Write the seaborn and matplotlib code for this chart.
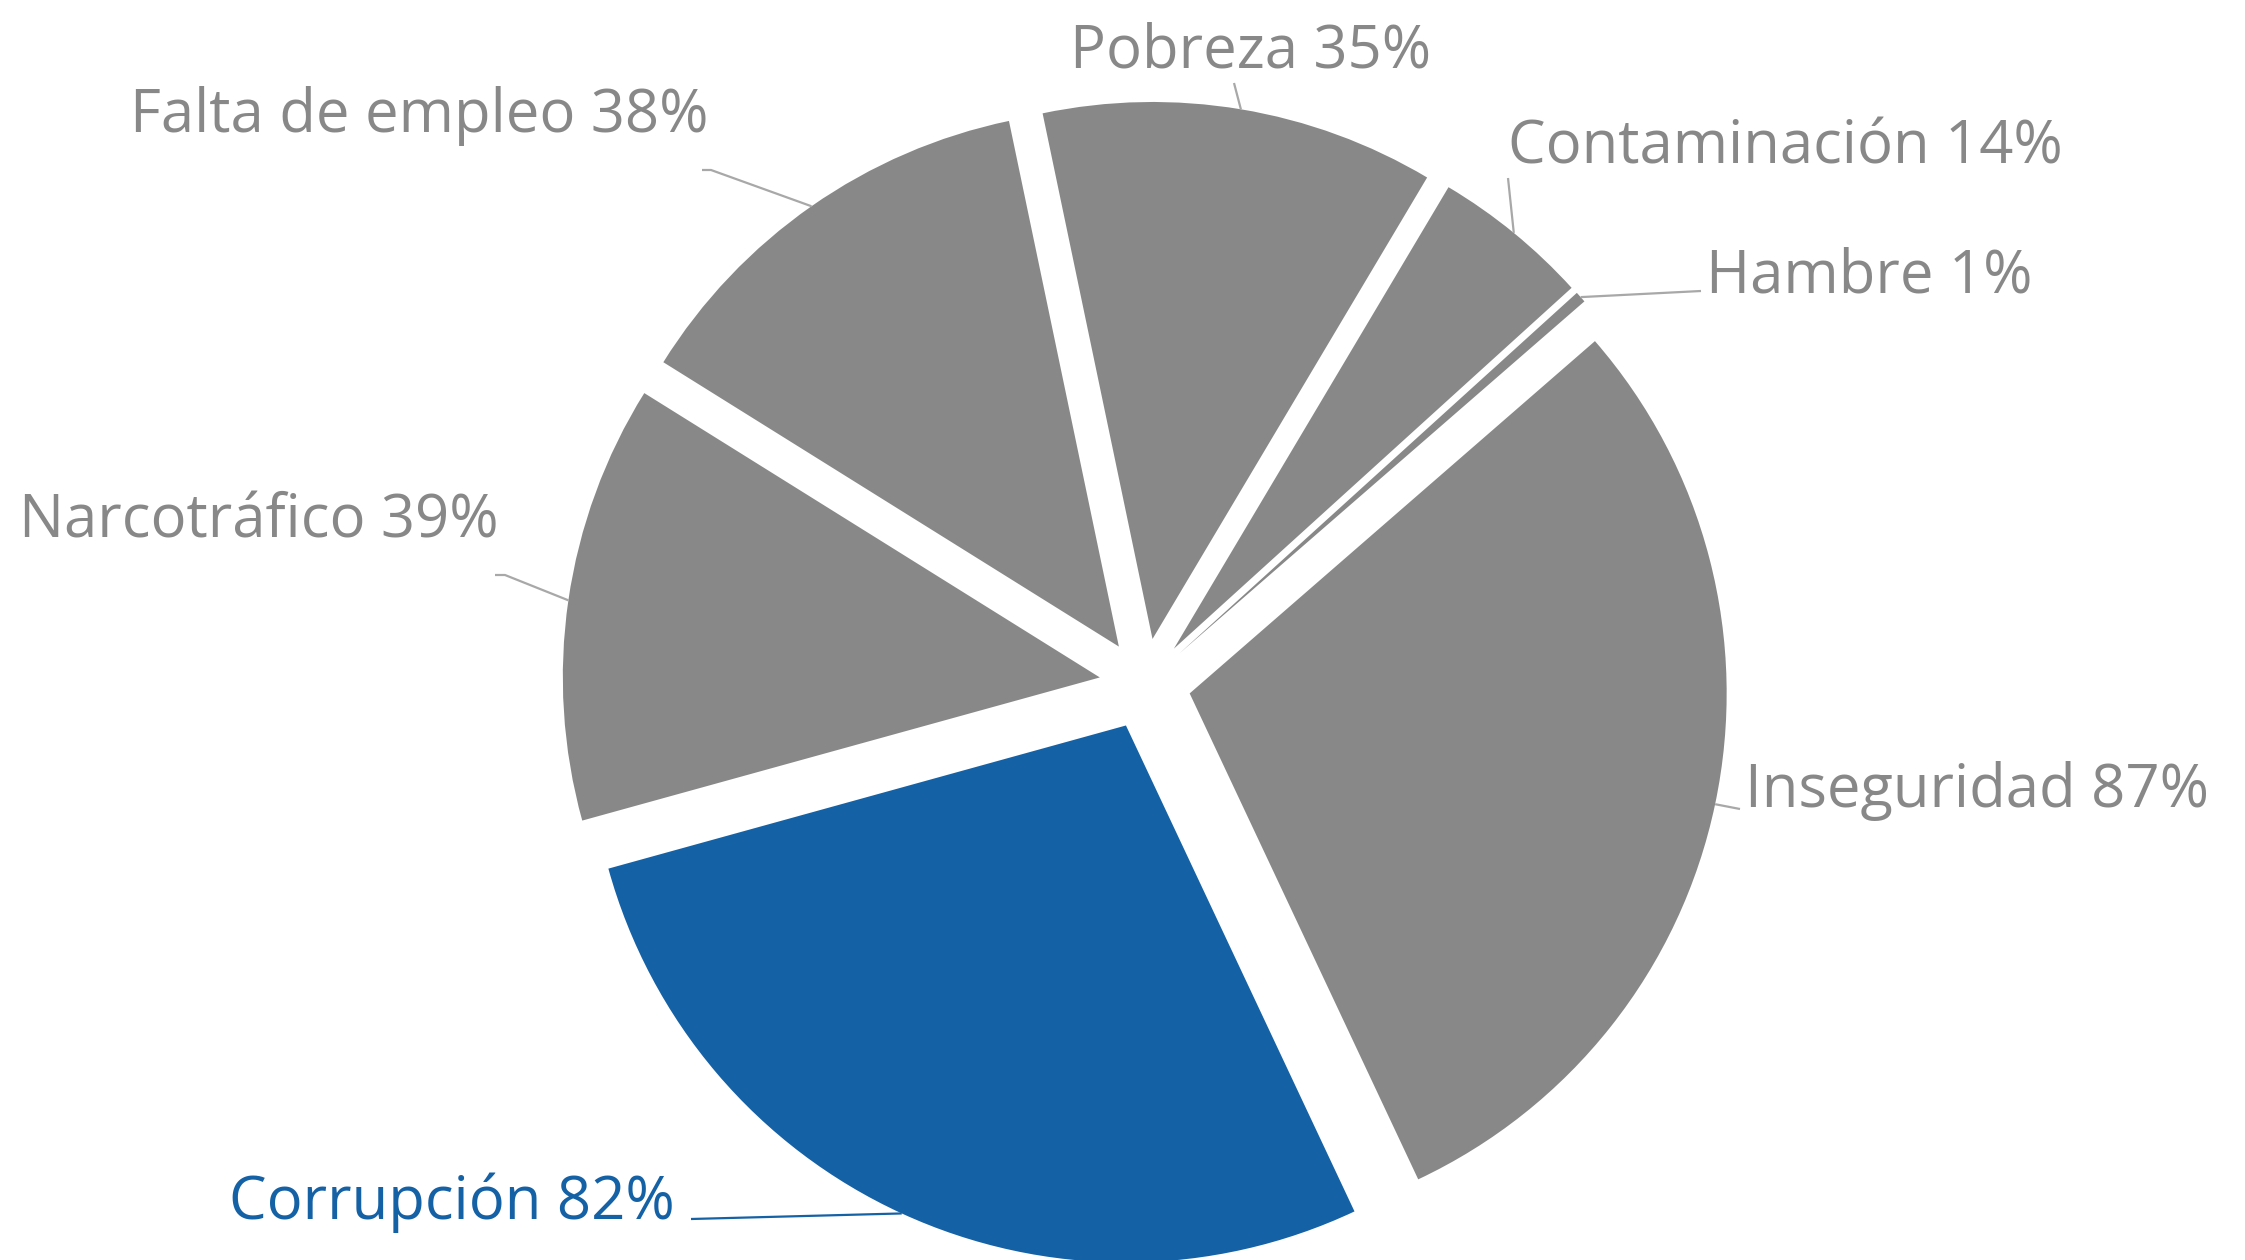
import numpy as np
import matplotlib
matplotlib.use("Agg")
import matplotlib.pyplot as plt
import seaborn as sns

# datos
categorias = ["Inseguridad", "Corrupción", "Narcotráfico", "Falta de empleo",
              "Pobreza", "Contaminación", "Hambre"]
porcentajes = [87, 82, 39, 38, 35, 14, 1]

sns.set_style("white")
plt.rcParams['font.family'] = ['Open Sans', 'DejaVu Sans']

GRIS = "#888888"
AZUL = "#1561A5"
LINEA = "#A8A8A8"
colores = [AZUL if c == "Corrupción" else GRIS for c in categorias]

W, H = 2245, 1260
cx, cy, R = 1145, 684, 537  # centro y radio del pastel en pixeles


def px(x, y):
    return (x - cx) / R, (cy - y) / R


fig = plt.figure(figsize=(W / 100, H / 100), dpi=100)
ax = fig.add_axes([0, 0, 1, 1])

wedges, _ = ax.pie(porcentajes, colors=colores, startangle=41, counterclock=False,
                   explode=[0.085] * len(porcentajes), radius=1,
                   wedgeprops=dict(linewidth=0))

ax.set_xlim(-cx / R, (W - cx) / R)
ax.set_ylim(-(H - cy) / R, cy / R)
ax.set_aspect('equal')
ax.axis('off')

# posiciones de etiquetas (pixeles): texto, alineacion, codo de la linea guia
etiquetas = {
    "Inseguridad":     dict(txt=(1745, 807), ha="left",   codo=[(1740, 809)]),
    "Corrupción":      dict(txt=(675, 1219), ha="right",  codo=[(691, 1219)]),
    "Narcotráfico":    dict(txt=(19, 537),   ha="left",   codo=[(505, 575), (495, 575)]),
    "Falta de empleo": dict(txt=(130, 132),  ha="left",   codo=[(711, 170), (702, 170)]),
    "Pobreza":         dict(txt=(1251, 67),  ha="center", codo=[(1234, 83)]),
    "Contaminación":   dict(txt=(1508, 163), ha="left",   codo=[(1508, 178)]),
    "Hambre":          dict(txt=(1706, 292), ha="left",   codo=[(1701, 291)]),
}

for w, cat, val, col in zip(wedges, categorias, porcentajes, colores):
    e = etiquetas[cat]
    ang = np.deg2rad((w.theta1 + w.theta2) / 2)
    x0 = w.center[0] + w.r * np.cos(ang)
    y0 = w.center[1] + w.r * np.sin(ang)
    pts = [(x0, y0)] + [px(*p) for p in e["codo"]]
    xs, ys = zip(*pts)
    ax.plot(xs, ys, color=AZUL if col == AZUL else LINEA, lw=1.6, solid_capstyle='butt')
    tx, ty = px(*e["txt"])
    ax.text(tx, ty, f"{cat} {val}%", ha=e["ha"], va="baseline", fontsize=43,
            color=col)

fig.savefig("out.png", dpi=100, facecolor="white")
